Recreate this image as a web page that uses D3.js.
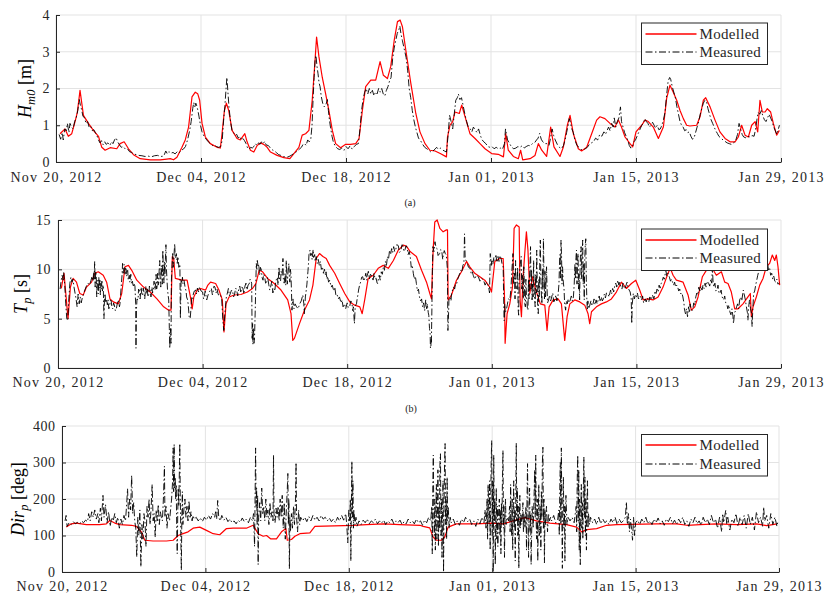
<!DOCTYPE html>
<html><head><meta charset="utf-8">
<script src="https://cdn.jsdelivr.net/npm/d3@7"></script>
<style>
body{margin:0;background:#fff}
svg{display:block}
text{font-family:"Liberation Serif","DejaVu Serif",serif;}
</style>
</head><body>
<svg id="c" width="829" height="596"></svg>
<script>
// ---------- data ----------
const tickDays = [0, 14, 28, 42, 56, 70];
const tickLabels = ["Nov 20, 2012", "Dec 04, 2012", "Dec 18, 2012", "Jan 01, 2013", "Jan 15, 2013", "Jan 29, 2013"];
const hsTicks = [0, 1, 2, 3, 4];
const tpTicks = [0, 5, 10, 15];
const dirTicks = [0, 100, 200, 300, 400];
const seriesNames = ["Modelled", "Measured"];

// [day since Nov 20 2012, Hm0 (m)]
const hsModelled = [[0.39,0.77],[0.87,0.9],[1.19,0.7],[1.52,0.77],[1.84,1.1],[2.06,1.35],[2.32,1.95],[2.65,1.27],[3.13,1.05],[3.61,0.86],[4.1,0.7],[4.42,0.4],[4.74,0.32],[5.23,0.39],[5.87,0.36],[6.19,0.5],[6.58,0.55],[7.0,0.36],[7.48,0.2],[8.13,0.09],[9.1,0.06],[10.06,0.06],[10.7,0.08],[11.03,0.09],[11.35,0.06],[11.68,0.13],[12.16,0.4],[12.48,0.6],[12.8,0.95],[13.13,1.77],[13.45,1.9],[13.68,1.86],[13.87,1.68],[14.1,1.05],[14.42,0.68],[14.9,0.5],[15.55,0.4],[15.87,0.38],[16.03,0.77],[16.26,1.4],[16.45,1.6],[16.68,1.4],[17.0,0.86],[17.48,0.64],[17.8,0.6],[18.23,0.77],[18.45,0.55],[18.77,0.32],[19.1,0.27],[19.42,0.45],[19.74,0.52],[20.06,0.48],[20.39,0.4],[20.71,0.27],[21.35,0.18],[22.0,0.12],[22.58,0.09],[22.97,0.23],[23.45,0.4],[23.77,0.73],[24.1,0.77],[24.42,0.86],[24.74,1.68],[24.97,2.6],[25.16,3.4],[25.39,2.86],[25.71,2.3],[26.03,1.86],[26.35,1.4],[26.68,0.86],[27.0,0.5],[27.48,0.39],[27.97,0.48],[28.45,0.48],[28.94,0.5],[29.26,0.64],[29.58,1.4],[29.9,2.05],[30.39,2.23],[30.87,2.23],[31.29,2.73],[31.61,2.36],[32.0,2.27],[32.32,2.6],[32.65,3.3],[32.97,3.82],[33.23,3.86],[33.45,3.68],[33.77,3.05],[34.26,2.14],[34.74,1.32],[35.14,0.82],[35.63,0.5],[36.1,0.32],[36.6,0.3],[37.1,0.23],[37.7,0.14],[37.8,0.68],[38.04,1.0],[38.3,1.1],[38.52,1.36],[38.94,1.32],[39.17,1.55],[39.5,1.23],[39.97,0.77],[40.46,0.64],[40.94,0.5],[41.42,0.36],[42.06,0.23],[42.7,0.21],[43.2,0.14],[43.42,0.77],[43.67,0.32],[44.16,0.15],[44.64,0.09],[44.86,0.32],[45.06,0.06],[45.77,0.09],[46.25,0.18],[46.57,0.5],[46.9,0.32],[47.37,0.15],[47.76,0.95],[48.08,0.41],[48.66,0.15],[48.98,0.4],[49.37,1.0],[49.63,1.27],[49.95,0.77],[50.43,0.36],[50.75,0.3],[51.24,0.4],[51.72,0.77],[52.2,1.14],[52.52,1.23],[53.0,1.18],[53.49,1.05],[53.97,0.95],[54.3,1.14],[54.6,0.95],[54.94,0.68],[55.42,0.5],[55.68,0.41],[56.0,0.82],[56.55,1.0],[56.87,1.14],[57.19,1.1],[57.67,0.95],[58.16,0.64],[58.64,0.95],[58.96,1.73],[59.28,2.09],[59.6,1.9],[59.93,1.68],[60.25,1.4],[60.57,1.18],[60.89,1.0],[61.2,0.98],[61.86,1.0],[62.18,1.23],[62.5,1.68],[62.73,1.75],[63.15,1.5],[63.63,1.14],[64.1,0.82],[64.6,0.64],[65.08,0.55],[65.56,0.55],[65.88,0.68],[66.2,1.0],[66.53,0.73],[66.85,0.68],[67.17,1.0],[67.5,1.1],[67.75,0.82],[67.97,1.68],[68.2,1.36],[68.46,1.36],[68.68,1.45],[69.0,1.36],[69.26,1.05],[69.58,0.73],[69.84,0.86]];

const hsMeasured = [[0.3,0.75],[0.45,0.62],[0.6,0.8],[0.7,0.6],[0.85,0.9],[1.0,0.85],[1.1,1.05],[1.25,0.8],[1.35,1.05],[1.5,0.95],[1.65,0.9],[1.8,1.1],[1.95,1.2],[2.1,1.4],[2.25,1.7],[2.35,1.55],[2.45,1.45],[2.6,1.25],[2.75,1.2],[2.9,1.05],[3.05,1.1],[3.2,0.95],[3.35,0.98],[3.5,0.85],[3.65,0.88],[3.8,0.8],[3.95,0.72],[4.1,0.6],[4.25,0.52],[4.4,0.58],[4.55,0.47],[4.7,0.55],[4.85,0.48],[5.0,0.52],[5.2,0.45],[5.35,0.55],[5.5,0.5],[5.65,0.6],[5.8,0.66],[5.95,0.55],[6.1,0.48],[6.3,0.4],[6.5,0.42],[6.7,0.35],[6.9,0.36],[7.1,0.28],[7.3,0.26],[7.5,0.22],[7.75,0.2],[8.0,0.18],[8.3,0.17],[8.6,0.15],[8.9,0.16],[9.2,0.14],[9.5,0.17],[9.8,0.18],[10.1,0.15],[10.4,0.16],[10.6,0.3],[10.75,0.22],[10.9,0.28],[11.1,0.24],[11.3,0.26],[11.5,0.22],[11.7,0.28],[11.9,0.25],[12.1,0.32],[12.3,0.35],[12.5,0.42],[12.7,0.6],[12.9,0.85],[13.05,1.1],[13.2,1.45],[13.3,1.62],[13.4,1.5],[13.5,1.6],[13.6,1.52],[13.7,1.4],[13.8,1.25],[13.95,1.0],[14.1,0.82],[14.3,0.7],[14.5,0.62],[14.7,0.55],[14.9,0.5],[15.1,0.45],[15.3,0.46],[15.5,0.42],[15.7,0.4],[15.9,0.42],[16.05,0.6],[16.2,1.2],[16.3,1.5],[16.42,2.0],[16.5,2.3],[16.6,1.9],[16.7,1.5],[16.85,1.1],[17.0,0.85],[17.15,0.8],[17.3,0.72],[17.45,0.75],[17.6,0.65],[17.75,0.7],[17.9,0.6],[18.05,0.64],[18.2,0.58],[18.35,0.5],[18.5,0.38],[18.65,0.35],[18.8,0.4],[18.95,0.38],[19.1,0.42],[19.25,0.5],[19.4,0.45],[19.55,0.52],[19.7,0.48],[19.85,0.55],[20.0,0.5],[20.15,0.56],[20.3,0.46],[20.5,0.45],[20.7,0.38],[20.9,0.33],[21.1,0.3],[21.3,0.25],[21.5,0.2],[21.7,0.18],[21.9,0.15],[22.1,0.14],[22.3,0.13],[22.5,0.15],[22.7,0.18],[22.9,0.22],[23.1,0.25],[23.3,0.3],[23.5,0.35],[23.7,0.4],[23.85,0.48],[24.0,0.5],[24.15,0.45],[24.3,0.6],[24.45,0.55],[24.6,0.62],[24.72,1.0],[24.82,1.7],[24.92,2.3],[25.02,2.8],[25.1,2.9],[25.2,2.6],[25.3,2.4],[25.4,2.15],[25.5,2.05],[25.6,1.8],[25.75,1.6],[25.9,1.5],[26.05,1.55],[26.2,1.7],[26.3,1.4],[26.4,1.15],[26.5,0.95],[26.65,0.7],[26.8,0.52],[27.0,0.42],[27.2,0.36],[27.4,0.34],[27.6,0.38],[27.8,0.32],[28.0,0.42],[28.2,0.36],[28.4,0.44],[28.6,0.35],[28.8,0.42],[29.0,0.48],[29.2,0.5],[29.35,0.9],[29.5,1.4],[29.65,1.7],[29.8,1.9],[29.95,2.0],[30.1,1.85],[30.25,2.0],[30.4,1.85],[30.55,1.95],[30.7,1.8],[30.85,1.9],[31.0,1.85],[31.15,2.0],[31.3,1.9],[31.45,2.0],[31.6,1.85],[31.75,1.8],[31.9,1.95],[32.05,2.05],[32.2,2.2],[32.35,2.3],[32.5,2.8],[32.65,3.1],[32.8,3.3],[32.95,3.5],[33.1,3.6],[33.2,3.7],[33.3,3.5],[33.45,3.3],[33.6,3.1],[33.8,2.85],[33.95,2.5],[34.1,2.0],[34.25,1.75],[34.4,1.4],[34.55,1.15],[34.7,0.95],[34.85,0.8],[35.0,0.65],[35.2,0.58],[35.4,0.48],[35.6,0.4],[35.8,0.36],[36.0,0.32],[36.2,0.27],[36.4,0.3],[36.6,0.35],[36.75,0.4],[36.9,0.35],[37.1,0.38],[37.3,0.33],[37.5,0.3],[37.7,0.27],[37.85,0.7],[38.0,1.27],[38.15,1.1],[38.3,0.9],[38.45,1.3],[38.6,1.68],[38.75,1.75],[38.85,1.85],[39.0,1.7],[39.15,1.75],[39.3,1.55],[39.5,1.27],[39.65,1.1],[39.8,0.95],[40.0,0.9],[40.15,0.82],[40.3,0.95],[40.5,0.86],[40.65,0.8],[40.8,0.9],[41.0,0.7],[41.15,0.6],[41.3,0.55],[41.5,0.5],[41.7,0.42],[41.9,0.4],[42.1,0.42],[42.3,0.36],[42.5,0.4],[42.7,0.36],[42.9,0.38],[43.1,0.34],[43.3,0.5],[43.4,0.9],[43.5,0.75],[43.6,0.6],[43.8,0.5],[44.0,0.4],[44.2,0.36],[44.4,0.38],[44.6,0.42],[44.8,0.4],[45.0,0.44],[45.2,0.38],[45.4,0.42],[45.6,0.45],[45.8,0.44],[46.0,0.5],[46.2,0.52],[46.4,0.6],[46.55,0.65],[46.7,0.78],[46.85,0.62],[47.0,0.55],[47.2,0.5],[47.4,0.5],[47.6,0.45],[47.75,0.65],[47.9,0.9],[48.05,0.72],[48.2,0.6],[48.4,0.48],[48.6,0.4],[48.8,0.36],[49.0,0.45],[49.15,0.6],[49.3,0.8],[49.45,1.0],[49.55,1.18],[49.65,1.1],[49.8,0.9],[49.95,0.8],[50.1,0.6],[50.3,0.45],[50.5,0.4],[50.7,0.34],[50.9,0.33],[51.1,0.36],[51.3,0.4],[51.5,0.48],[51.7,0.52],[51.9,0.55],[52.1,0.65],[52.3,0.6],[52.5,0.75],[52.7,0.7],[52.9,0.82],[53.05,0.75],[53.2,0.85],[53.35,0.95],[53.5,0.85],[53.65,1.05],[53.8,0.95],[53.9,1.2],[54.05,0.95],[54.2,1.1],[54.35,1.2],[54.5,1.5],[54.6,1.1],[54.75,0.95],[54.9,0.8],[55.05,0.7],[55.2,0.6],[55.35,0.45],[55.5,0.38],[55.65,0.4],[55.8,0.55],[55.95,0.6],[56.1,0.7],[56.25,0.8],[56.4,0.9],[56.55,1.0],[56.7,1.05],[56.85,1.18],[57.0,1.1],[57.15,1.05],[57.3,0.95],[57.45,1.0],[57.6,1.08],[57.75,1.0],[57.9,0.92],[58.05,1.0],[58.2,0.88],[58.35,0.9],[58.5,1.0],[58.65,1.15],[58.8,1.35],[58.95,1.8],[59.1,2.2],[59.25,2.3],[59.35,2.25],[59.5,2.05],[59.65,1.9],[59.8,1.75],[59.95,1.5],[60.1,1.3],[60.25,1.1],[60.4,1.0],[60.55,0.95],[60.7,0.85],[60.85,0.88],[61.0,0.8],[61.15,0.82],[61.3,0.7],[61.45,0.62],[61.6,0.65],[61.75,0.8],[61.9,0.95],[62.05,1.1],[62.2,1.3],[62.35,1.45],[62.5,1.6],[62.65,1.68],[62.8,1.65],[62.95,1.45],[63.1,1.3],[63.25,1.15],[63.4,1.05],[63.55,0.95],[63.7,0.85],[63.85,0.78],[64.0,0.7],[64.2,0.65],[64.4,0.6],[64.6,0.56],[64.8,0.52],[65.0,0.5],[65.2,0.48],[65.4,0.52],[65.6,0.56],[65.8,0.75],[65.95,1.05],[66.1,0.9],[66.25,0.75],[66.4,0.68],[66.6,0.66],[66.8,0.7],[67.0,0.68],[67.2,0.72],[67.4,0.7],[67.55,0.9],[67.7,1.2],[67.8,1.35],[67.95,1.3],[68.1,1.4],[68.25,1.25],[68.4,1.15],[68.55,1.1],[68.7,1.2],[68.85,1.3],[69.0,1.2],[69.15,1.1],[69.3,0.95],[69.45,0.85],[69.6,0.75],[69.75,0.9],[69.85,1.0]];

// [day, Tp (s)]
const tpModelled = [[0.32,8.06],[0.58,9.6],[0.81,6.9],[0.97,5.0],[1.2,8.2],[1.46,9.08],[1.79,8.7],[2.11,7.55],[2.44,7.4],[2.76,8.2],[3.25,8.7],[3.57,9.6],[3.9,9.75],[4.38,9.4],[4.71,8.7],[5.03,7.0],[5.36,6.7],[5.84,6.5],[6.17,7.55],[6.49,10.26],[6.82,10.4],[7.14,9.9],[7.63,8.9],[8.28,8.2],[8.93,7.7],[9.58,7.0],[10.23,6.2],[10.71,5.86],[10.94,5.86],[11.07,11.3],[11.2,11.1],[11.36,9.08],[12.0,8.9],[12.5,8.9],[12.82,7.2],[12.99,6.0],[13.15,7.2],[13.47,7.9],[13.8,8.06],[14.29,7.9],[14.51,8.4],[14.77,8.7],[15.26,8.56],[15.58,7.9],[15.91,6.9],[16.07,3.66],[16.27,6.5],[16.56,7.2],[17.05,7.4],[17.7,7.45],[18.34,7.7],[18.83,8.06],[19.16,8.56],[19.48,9.9],[19.81,9.75],[20.29,9.08],[20.94,8.56],[21.59,7.9],[22.24,6.9],[22.56,5.5],[22.73,2.8],[22.89,3.0],[23.38,4.5],[23.86,5.86],[24.35,6.9],[24.68,8.4],[25.0,11.1],[25.32,11.6],[25.65,11.3],[25.97,11.1],[26.3,10.4],[26.79,9.6],[27.27,8.56],[27.76,7.55],[28.25,6.7],[28.73,6.37],[29.22,6.2],[29.45,5.5],[29.71,7.0],[30.03,9.08],[30.52,9.4],[31.0,10.1],[31.49,10.4],[31.98,10.1],[32.47,10.9],[32.95,11.95],[33.44,12.46],[33.77,12.3],[34.09,11.8],[34.7,11.3],[35.2,9.9],[35.68,8.7],[36.0,7.55],[36.16,7.0],[36.32,11.95],[36.48,14.8],[36.71,15.0],[36.97,14.15],[37.29,13.8],[37.61,14.0],[37.71,14.0],[37.77,6.9],[38.1,7.4],[38.58,8.9],[39.06,9.75],[39.55,10.8],[39.87,10.26],[40.35,9.6],[40.84,9.25],[41.32,8.9],[41.8,8.2],[41.97,7.7],[42.29,10.8],[42.77,11.1],[43.1,11.1],[43.23,7.2],[43.29,2.5],[43.48,5.5],[43.74,6.5],[44.0,8.2],[44.16,14.15],[44.39,14.5],[44.65,14.3],[44.74,6.9],[44.87,5.2],[45.03,9.25],[45.19,11.6],[45.35,13.8],[45.5,11.95],[45.68,7.55],[45.94,9.25],[46.26,7.9],[46.7,6.5],[47.13,6.37],[47.35,3.8],[47.55,6.2],[47.94,6.9],[48.42,7.0],[48.74,6.5],[49.06,2.8],[49.29,5.2],[49.55,6.5],[50.03,6.9],[50.52,6.7],[51.0,6.37],[51.32,5.5],[51.48,4.5],[51.65,5.7],[52.13,6.2],[52.61,6.5],[53.1,6.7],[53.58,7.0],[54.06,7.7],[54.55,8.7],[55.03,8.06],[55.52,8.56],[55.94,8.9],[56.32,7.9],[56.65,6.9],[57.13,7.0],[57.61,6.9],[58.1,7.2],[58.58,8.2],[59.06,9.6],[59.29,10.1],[59.55,9.4],[59.87,8.9],[60.52,8.7],[61.0,7.4],[61.32,5.86],[61.65,6.2],[61.97,7.2],[62.39,9.25],[62.77,9.9],[63.26,10.26],[63.74,9.4],[64.23,9.75],[64.55,8.7],[64.87,8.56],[65.19,7.7],[65.52,6.0],[65.84,6.0],[66.32,6.5],[66.8,7.2],[67.03,7.55],[67.13,5.2],[67.29,6.2],[67.61,7.2],[67.94,8.4],[68.26,9.08],[68.58,10.26],[68.9,10.6],[69.16,11.45],[69.39,10.9],[69.55,11.45],[69.71,10.26],[69.87,8.4]];

const tpMeasured = [[0.2,8.0],[0.3,8.8],[0.4,9.4],[0.5,8.9],[0.55,9.7],[0.65,8.5],[0.75,6.5],[0.85,5.0],[0.95,4.8],[1.05,7.0],[1.15,8.6],[1.25,9.2],[1.35,8.7],[1.45,9.0],[1.55,8.2],[1.65,7.6],[1.75,7.0],[1.85,6.2],[1.95,7.5],[2.05,6.5],[2.15,7.2],[2.25,6.6],[2.35,7.1],[2.45,7.4],[2.6,7.9],[2.75,8.3],[2.9,8.6],[3.05,8.4],[3.2,8.9],[3.3,9.3],[3.4,8.8],[3.45,9.75],[3.5,9.0],[3.55,10.8],[3.6,8.2],[3.65,9.8],[3.7,9.4],[3.75,7.2],[3.8,8.9],[3.85,8.7],[3.9,7.5],[3.95,9.2],[4.0,8.1],[4.05,8.9],[4.1,7.4],[4.15,8.6],[4.2,8.0],[4.25,8.8],[4.3,7.8],[4.38,8.4],[4.45,5.0],[4.5,7.0],[4.55,7.55],[4.62,6.6],[4.7,7.0],[4.78,6.4],[4.85,6.9],[4.92,6.0],[5.0,6.3],[5.08,6.9],[5.15,6.8],[5.22,6.1],[5.3,6.0],[5.38,6.6],[5.45,6.4],[5.55,5.8],[5.65,6.0],[5.75,6.6],[5.85,6.9],[5.95,6.2],[6.0,6.5],[6.1,8.0],[6.2,9.4],[6.25,10.6],[6.3,9.6],[6.35,9.8],[6.4,10.5],[6.45,10.2],[6.5,9.4],[6.55,10.1],[6.6,10.0],[6.65,9.3],[6.7,9.8],[6.75,9.9],[6.8,8.9],[6.9,9.4],[6.95,8.7],[7.05,9.5],[7.1,8.6],[7.2,8.8],[7.3,8.2],[7.35,8.6],[7.45,8.3],[7.52,6.5],[7.55,2.0],[7.6,6.0],[7.65,7.0],[7.75,6.9],[7.8,8.0],[7.9,7.8],[7.95,7.0],[8.05,8.2],[8.1,7.6],[8.2,7.3],[8.25,8.1],[8.35,7.55],[8.4,7.0],[8.5,8.3],[8.55,7.5],[8.65,8.06],[8.7,7.2],[8.8,7.5],[8.85,8.3],[8.95,7.7],[9.0,7.2],[9.1,8.2],[9.15,7.6],[9.25,8.0],[9.3,8.8],[9.4,7.9],[9.45,8.56],[9.5,9.5],[9.55,8.0],[9.6,8.3],[9.65,9.6],[9.7,8.4],[9.75,9.0],[9.8,10.0],[9.85,10.9],[9.9,8.6],[9.95,8.2],[10.0,10.4],[10.05,9.4],[10.1,8.5],[10.15,11.95],[10.2,9.8],[10.25,8.6],[10.3,10.8],[10.35,9.25],[10.4,11.0],[10.45,12.5],[10.5,10.0],[10.55,9.0],[10.6,8.0],[10.65,7.5],[10.72,6.9],[10.78,4.0],[10.82,2.0],[10.86,3.0],[10.9,4.0],[10.94,2.5],[10.98,8.9],[11.05,10.5],[11.1,11.6],[11.15,10.2],[11.2,10.5],[11.25,11.8],[11.3,12.6],[11.35,11.2],[11.4,11.1],[11.45,11.6],[11.55,10.6],[11.6,11.3],[11.65,11.0],[11.7,10.2],[11.8,10.5],[11.85,5.0],[11.92,9.0],[12.0,8.6],[12.05,9.2],[12.1,8.56],[12.2,8.9],[12.3,8.2],[12.4,7.8],[12.45,7.2],[12.55,6.9],[12.6,6.5],[12.7,5.2],[12.8,5.0],[12.9,6.4],[12.95,7.2],[13.05,7.0],[13.1,7.5],[13.2,7.8],[13.3,7.9],[13.4,7.5],[13.5,8.1],[13.6,7.7],[13.7,8.2],[13.85,7.8],[14.0,7.7],[14.1,7.0],[14.15,7.2],[14.25,7.8],[14.3,7.5],[14.4,6.9],[14.5,7.3],[14.6,7.6],[14.7,7.8],[14.85,8.06],[14.95,7.4],[15.0,7.6],[15.1,8.3],[15.2,8.2],[15.3,7.6],[15.4,8.0],[15.5,7.5],[15.55,7.4],[15.7,7.5],[15.85,7.0],[15.95,5.0],[16.05,3.8],[16.15,5.5],[16.3,7.2],[16.4,7.6],[16.5,8.06],[16.6,7.3],[16.7,7.6],[16.8,7.9],[16.9,7.8],[17.0,7.2],[17.1,7.5],[17.2,8.1],[17.3,7.9],[17.4,7.3],[17.5,8.0],[17.6,8.3],[17.7,7.6],[17.8,8.2],[17.9,8.1],[18.0,7.5],[18.1,8.3],[18.2,8.6],[18.3,7.9],[18.4,8.4],[18.5,8.5],[18.6,9.0],[18.65,8.9],[18.75,8.6],[18.8,3.0],[18.84,4.5],[18.87,2.4],[18.9,3.5],[18.93,4.0],[18.97,2.5],[19.02,2.8],[19.1,6.0],[19.15,8.5],[19.2,10.6],[19.25,10.0],[19.3,10.9],[19.38,10.2],[19.45,10.5],[19.5,9.4],[19.55,9.6],[19.6,10.2],[19.7,9.9],[19.75,9.2],[19.85,8.9],[19.9,9.5],[20.0,9.3],[20.1,8.6],[20.2,8.7],[20.3,9.2],[20.4,8.5],[20.5,7.9],[20.6,8.3],[20.7,8.8],[20.8,7.6],[20.9,8.06],[21.0,7.8],[21.05,8.5],[21.15,9.0],[21.25,9.2],[21.3,8.4],[21.4,10.26],[21.45,9.0],[21.55,8.8],[21.6,9.8],[21.7,9.4],[21.78,11.1],[21.82,9.0],[21.9,8.6],[21.98,9.6],[22.05,8.4],[22.1,10.9],[22.15,9.5],[22.2,8.5],[22.27,9.8],[22.35,10.6],[22.4,9.2],[22.45,8.7],[22.5,10.0],[22.55,9.5],[22.6,8.0],[22.65,5.86],[22.7,6.5],[22.75,7.0],[22.8,6.2],[22.85,6.0],[22.95,6.5],[23.1,6.2],[23.25,6.0],[23.4,6.5],[23.55,6.8],[23.7,7.4],[23.8,6.5],[23.85,5.5],[23.95,7.2],[24.05,8.0],[24.1,8.5],[24.2,9.8],[24.25,10.5],[24.3,11.5],[24.4,11.95],[24.45,11.4],[24.55,11.6],[24.6,11.0],[24.7,12.0],[24.75,11.2],[24.85,11.5],[24.9,10.8],[25.0,11.3],[25.1,10.6],[25.2,11.0],[25.3,10.4],[25.4,10.8],[25.5,10.0],[25.6,10.26],[25.7,9.6],[25.8,10.0],[25.9,9.4],[25.95,9.75],[26.05,9.0],[26.1,9.3],[26.2,8.7],[26.3,8.9],[26.45,8.2],[26.55,8.4],[26.7,7.8],[26.8,8.2],[26.9,7.4],[27.0,7.5],[27.15,7.0],[27.25,7.2],[27.4,6.6],[27.5,6.9],[27.6,6.2],[27.75,6.5],[27.85,6.0],[28.0,6.6],[28.1,6.1],[28.25,6.3],[28.35,6.8],[28.45,6.6],[28.55,5.8],[28.6,6.2],[28.7,4.5],[28.78,6.3],[28.9,6.5],[28.95,6.9],[29.05,7.5],[29.1,7.9],[29.2,8.4],[29.3,8.7],[29.4,9.2],[29.5,9.25],[29.6,8.8],[29.7,9.1],[29.8,9.6],[29.9,8.9],[29.95,9.4],[30.05,9.8],[30.15,9.0],[30.25,9.5],[30.4,9.3],[30.5,8.8],[30.6,9.6],[30.7,9.0],[30.8,9.1],[30.9,8.6],[30.95,8.56],[31.05,9.2],[31.1,9.4],[31.2,8.9],[31.3,9.75],[31.4,9.5],[31.5,10.2],[31.6,9.9],[31.7,10.8],[31.8,10.4],[31.9,11.3],[32.0,11.0],[32.1,11.95],[32.2,11.5],[32.3,12.1],[32.4,11.7],[32.5,12.3],[32.6,11.8],[32.7,12.0],[32.8,12.5],[32.95,12.4],[33.05,11.7],[33.2,11.9],[33.3,12.5],[33.4,12.4],[33.5,11.8],[33.6,12.0],[33.7,12.4],[33.8,12.2],[33.9,11.5],[34.0,11.8],[34.1,11.3],[34.2,10.2],[34.3,10.4],[34.4,9.6],[34.5,9.0],[34.6,9.3],[34.7,8.56],[34.8,7.8],[34.9,8.0],[35.0,7.2],[35.1,6.8],[35.2,7.0],[35.3,6.2],[35.4,6.6],[35.5,5.8],[35.6,6.9],[35.7,6.0],[35.75,6.5],[35.85,5.6],[35.9,5.35],[35.97,4.0],[36.03,3.5],[36.06,2.0],[36.1,2.1],[36.13,3.0],[36.15,2.5],[36.2,6.0],[36.25,10.0],[36.3,12.3],[36.4,11.8],[36.5,12.8],[36.6,12.2],[36.7,12.1],[36.8,11.4],[36.95,11.6],[37.05,12.0],[37.15,11.9],[37.25,11.0],[37.3,11.45],[37.4,11.9],[37.5,11.6],[37.6,11.45],[37.7,10.0],[37.75,3.8],[37.8,5.0],[37.85,6.9],[37.95,7.2],[38.05,6.8],[38.1,7.55],[38.2,7.9],[38.3,8.2],[38.4,8.0],[38.5,8.6],[38.6,8.56],[38.7,9.0],[38.8,9.3],[38.9,9.6],[39.0,9.9],[39.1,9.7],[39.2,10.4],[39.3,10.6],[39.36,13.6],[39.42,11.2],[39.45,11.0],[39.55,10.8],[39.65,10.5],[39.75,10.2],[39.9,10.1],[40.0,9.6],[40.1,9.8],[40.2,9.4],[40.35,9.0],[40.5,9.4],[40.7,9.25],[40.85,8.8],[41.0,9.1],[41.2,8.9],[41.35,8.4],[41.5,8.7],[41.7,8.2],[41.78,7.6],[41.85,11.6],[41.95,10.4],[42.0,11.0],[42.1,10.5],[42.2,11.2],[42.3,10.9],[42.4,11.4],[42.5,10.7],[42.6,11.3],[42.7,10.8],[42.8,11.4],[42.9,11.1],[43.0,10.5],[43.1,10.26],[43.15,7.0],[43.2,4.8],[43.25,6.5],[43.3,5.6],[43.4,5.86],[43.5,6.4],[43.6,7.0],[43.75,6.9],[43.85,8.0],[43.95,10.0],[44.05,11.6],[44.1,8.5],[44.2,9.6],[44.25,7.0],[44.3,10.9],[44.35,8.2],[44.45,8.0],[44.5,10.2],[44.55,6.0],[44.6,5.35],[44.65,9.0],[44.75,10.5],[44.85,11.3],[44.9,8.0],[44.95,9.4],[45.05,7.0],[45.1,10.26],[45.15,8.5],[45.2,6.5],[45.25,6.2],[45.3,9.0],[45.35,7.4],[45.45,6.0],[45.5,5.86],[45.55,9.0],[45.6,7.0],[45.7,10.5],[45.75,12.3],[45.8,8.0],[45.85,10.0],[45.9,6.9],[45.95,8.5],[46.0,7.2],[46.05,10.9],[46.1,8.0],[46.15,7.0],[46.2,6.2],[46.25,9.5],[46.3,7.6],[46.35,11.95],[46.4,8.4],[46.45,6.0],[46.5,5.5],[46.55,9.0],[46.6,7.2],[46.65,11.0],[46.7,12.97],[46.75,9.0],[46.8,7.5],[46.85,6.5],[46.9,10.0],[46.95,8.0],[47.0,13.1],[47.05,9.5],[47.1,7.0],[47.15,9.8],[47.2,7.2],[47.3,10.26],[47.35,8.0],[47.4,6.6],[47.5,6.9],[47.6,7.4],[47.7,6.8],[47.8,7.2],[47.9,7.6],[48.0,6.7],[48.1,6.9],[48.2,7.4],[48.3,6.8],[48.4,7.2],[48.5,8.5],[48.55,10.26],[48.6,11.5],[48.65,9.0],[48.7,12.97],[48.75,11.5],[48.8,8.5],[48.85,10.26],[48.9,9.0],[49.0,7.9],[49.05,6.5],[49.15,5.86],[49.2,6.8],[49.3,6.5],[49.4,7.0],[49.5,6.6],[49.6,6.9],[49.7,7.3],[49.8,6.8],[49.9,7.2],[49.98,8.5],[50.05,10.5],[50.1,9.0],[50.15,11.2],[50.2,11.95],[50.25,8.5],[50.3,10.8],[50.35,11.6],[50.4,8.0],[50.45,9.5],[50.5,6.9],[50.55,10.0],[50.6,12.0],[50.65,12.3],[50.7,9.0],[50.75,11.4],[50.8,12.97],[50.85,8.5],[50.9,10.5],[50.95,6.9],[51.0,11.0],[51.05,12.5],[51.1,13.1],[51.15,9.0],[51.2,7.0],[51.25,5.86],[51.3,6.8],[51.4,6.0],[51.45,6.2],[51.6,6.8],[51.7,6.3],[51.8,6.5],[51.9,7.0],[52.0,6.4],[52.1,6.9],[52.2,6.5],[52.3,6.9],[52.4,7.3],[52.5,6.7],[52.6,7.2],[52.7,6.8],[52.8,7.0],[52.9,7.5],[53.0,7.1],[53.1,7.6],[53.25,7.55],[53.35,7.2],[53.5,7.9],[53.6,7.5],[53.7,8.06],[53.8,7.7],[53.9,8.3],[54.0,8.6],[54.1,8.2],[54.2,8.9],[54.3,8.4],[54.4,8.7],[54.5,8.2],[54.6,8.0],[54.7,8.6],[54.8,8.2],[54.9,8.0],[55.0,8.4],[55.1,8.7],[55.2,8.1],[55.3,7.9],[55.4,7.7],[55.5,7.0],[55.55,4.5],[55.6,6.5],[55.7,7.55],[55.8,7.0],[55.9,7.4],[56.0,7.2],[56.1,7.6],[56.2,7.0],[56.35,7.3],[56.5,6.9],[56.6,7.3],[56.7,6.6],[56.85,7.0],[56.95,6.7],[57.05,7.1],[57.2,6.7],[57.3,7.2],[57.45,6.9],[57.55,7.4],[57.7,7.0],[57.8,7.8],[57.9,7.55],[58.0,8.0],[58.1,7.7],[58.2,8.4],[58.3,8.1],[58.4,8.56],[58.5,8.8],[58.6,9.2],[58.7,9.0],[58.8,9.6],[58.85,9.9],[58.95,9.3],[59.05,9.6],[59.2,9.2],[59.3,8.8],[59.4,9.0],[59.5,8.7],[59.6,8.4],[59.7,8.7],[59.8,8.2],[59.9,8.4],[60.0,8.2],[60.1,7.8],[60.2,8.0],[60.3,7.5],[60.4,7.6],[60.5,7.2],[60.6,6.6],[60.65,6.0],[60.75,5.5],[60.85,6.0],[60.95,5.2],[61.05,6.2],[61.15,5.6],[61.2,6.5],[61.3,5.9],[61.45,5.86],[61.55,6.6],[61.65,6.4],[61.75,7.2],[61.85,7.6],[61.95,7.4],[62.05,8.2],[62.15,7.8],[62.25,8.3],[62.35,7.9],[62.45,8.4],[62.55,8.06],[62.65,8.6],[62.75,8.2],[62.85,8.8],[63.0,8.56],[63.1,8.3],[63.2,9.0],[63.3,8.6],[63.35,10.26],[63.42,8.8],[63.5,8.2],[63.6,8.6],[63.7,7.8],[63.8,7.9],[63.9,8.4],[64.0,7.6],[64.1,7.55],[64.2,7.9],[64.3,7.2],[64.45,6.9],[64.55,7.3],[64.65,6.6],[64.75,6.5],[64.85,6.0],[64.95,6.4],[65.05,5.7],[65.15,5.4],[65.25,6.0],[65.35,5.2],[65.4,4.5],[65.5,5.6],[65.6,5.8],[65.7,6.2],[65.8,6.5],[65.9,6.0],[66.0,6.9],[66.1,7.2],[66.2,6.8],[66.35,7.9],[66.45,7.4],[66.55,6.9],[66.65,6.2],[66.75,5.6],[66.8,4.85],[66.85,6.0],[66.95,6.9],[67.05,6.0],[67.15,5.5],[67.2,4.2],[67.25,5.5],[67.35,7.55],[67.45,7.8],[67.55,8.4],[67.65,8.9],[67.75,9.4],[67.85,9.8],[67.95,10.6],[68.05,11.0],[68.15,11.6],[68.2,12.8],[68.3,11.4],[68.4,11.0],[68.45,10.9],[68.55,10.4],[68.6,10.26],[68.7,10.6],[68.8,9.9],[68.9,10.1],[69.0,9.4],[69.1,9.6],[69.2,9.0],[69.3,9.3],[69.4,8.8],[69.5,8.7],[69.6,9.0],[69.7,8.5],[69.85,8.6]];

// [day, Dir_p (deg)]
const dirModelled = [[0.42,123],[0.91,132],[1.4,134],[2.38,130],[3.68,130],[4.33,132],[4.66,141],[5.15,134],[5.64,130],[6.78,128],[7.26,125],[7.75,110],[8.08,87],[8.89,85],[10.2,85],[10.85,87],[11.34,100],[11.82,105],[12.31,110],[12.8,120],[13.45,123],[14.1,114],[14.76,105],[15.4,102],[16.06,119],[16.7,120],[18.0,120],[18.66,128],[19.15,105],[19.64,98],[19.97,100],[20.36,91],[20.94,91],[21.43,110],[21.86,119],[21.99,87],[22.4,89],[22.74,98],[23.22,105],[24.2,107],[24.69,125],[28.44,128],[29.74,130],[31.37,132],[33.0,130],[34.95,128],[35.26,125],[35.9,121],[36.23,96],[36.56,87],[37.05,87],[37.37,96],[37.7,123],[38.5,132],[40.47,132],[42.0,134],[43.07,132],[44.38,143],[45.19,149],[46.33,140],[47.64,134],[49.26,130],[50.24,123],[50.73,110],[51.22,116],[52.2,119],[53.17,128],[54.15,130],[58.06,132],[60.0,132],[61.0,128],[62.3,130],[63.9,132],[65.9,130],[67.8,132],[68.8,127],[69.8,132]];

const dirMeasured = [[0.3,140],[0.4,155],[0.5,125],[0.7,135],[0.9,130],[1.1,138],[1.3,132],[1.5,136],[1.7,130],[1.9,140],[2.1,135],[2.3,142],[2.5,138],[2.6,160],[2.75,140],[2.9,165],[3.05,150],[3.2,170],[3.35,145],[3.5,160],[3.6,135],[3.75,175],[3.85,140],[4.0,210],[4.1,150],[4.25,185],[4.4,135],[4.55,165],[4.7,125],[4.85,150],[5.0,140],[5.15,160],[5.3,135],[5.45,150],[5.6,120],[5.75,145],[5.9,130],[6.05,155],[6.2,140],[6.3,180],[6.4,228],[6.5,150],[6.6,200],[6.7,170],[6.8,265],[6.9,160],[7.0,190],[7.1,140],[7.2,120],[7.3,41],[7.4,150],[7.5,100],[7.6,170],[7.7,14],[7.8,130],[7.9,90],[8.0,160],[8.1,140],[8.2,70],[8.3,180],[8.4,150],[8.5,200],[8.6,130],[8.7,175],[8.8,240],[8.9,140],[9.0,160],[9.1,95],[9.2,170],[9.3,140],[9.4,185],[9.5,130],[9.6,165],[9.7,150],[9.8,140],[9.9,200],[10.0,290],[10.05,150],[10.15,180],[10.25,120],[10.35,160],[10.5,140],[10.6,170],[10.7,200],[10.8,250],[10.85,340],[10.9,220],[10.95,350],[11.0,230],[11.05,260],[11.1,200],[11.15,240],[11.2,120],[11.25,50],[11.3,160],[11.35,230],[11.4,180],[11.45,260],[11.5,352],[11.55,200],[11.6,100],[11.65,5],[11.7,150],[11.75,220],[11.8,130],[11.9,170],[12.0,200],[12.1,150],[12.2,180],[12.3,140],[12.4,195],[12.5,150],[12.6,165],[12.7,140],[12.8,155],[12.9,145],[13.1,150],[13.3,140],[13.5,148],[13.7,138],[13.9,150],[14.1,142],[14.3,155],[14.5,145],[14.7,160],[14.9,150],[15.0,165],[15.1,145],[15.2,196],[15.3,150],[15.45,140],[15.6,155],[15.8,142],[16.0,150],[16.2,138],[16.4,145],[16.6,135],[16.8,140],[17.0,132],[17.2,142],[17.4,136],[17.6,148],[17.8,138],[18.0,145],[18.2,135],[18.4,150],[18.6,140],[18.7,160],[18.8,70],[18.85,200],[18.9,340],[18.95,180],[19.0,230],[19.05,130],[19.1,210],[19.15,20],[19.2,150],[19.3,190],[19.4,140],[19.5,230],[19.6,160],[19.7,180],[19.8,140],[19.9,200],[20.0,150],[20.1,170],[20.2,130],[20.3,190],[20.4,150],[20.5,165],[20.6,140],[20.65,320],[20.7,160],[20.8,135],[20.9,175],[21.0,150],[21.1,180],[21.2,140],[21.3,200],[21.4,150],[21.5,210],[21.6,120],[21.7,190],[21.8,90],[21.9,170],[22.0,230],[22.05,270],[22.1,130],[22.15,200],[22.2,9],[22.25,150],[22.3,110],[22.4,160],[22.5,120],[22.6,180],[22.7,130],[22.8,200],[22.85,300],[22.9,150],[23.0,110],[23.1,170],[23.2,130],[23.3,150],[23.5,140],[23.7,150],[23.9,138],[24.1,152],[24.3,140],[24.5,155],[24.7,142],[24.9,150],[25.1,140],[25.3,155],[25.5,145],[25.7,150],[25.9,140],[26.1,148],[26.3,138],[26.5,145],[26.7,135],[26.9,150],[27.1,140],[27.3,155],[27.5,142],[27.7,160],[27.8,130],[27.9,80],[28.0,170],[28.1,140],[28.15,200],[28.2,30],[28.25,180],[28.3,304],[28.35,150],[28.4,250],[28.45,120],[28.5,170],[28.6,130],[28.7,150],[28.8,125],[29.0,140],[29.2,130],[29.4,142],[29.6,135],[29.8,145],[30.0,132],[30.2,140],[30.4,135],[30.6,145],[30.8,132],[31.0,140],[31.2,134],[31.4,142],[31.6,130],[31.8,140],[32.0,135],[32.2,145],[32.4,132],[32.6,140],[32.8,135],[33.0,142],[33.2,130],[33.4,138],[33.6,132],[33.8,145],[34.0,135],[34.2,140],[34.4,132],[34.6,145],[34.8,135],[35.0,140],[35.2,128],[35.4,142],[35.6,135],[35.8,150],[36.0,140],[36.1,180],[36.15,50],[36.2,230],[36.25,320],[36.3,150],[36.35,100],[36.4,200],[36.45,60],[36.5,170],[36.55,240],[36.6,90],[36.65,150],[36.7,280],[36.75,70],[36.8,180],[36.85,120],[36.9,300],[36.95,324],[37.0,100],[37.05,200],[37.1,40],[37.15,160],[37.2,250],[37.25,0],[37.3,180],[37.35,300],[37.4,352],[37.45,130],[37.5,200],[37.55,90],[37.6,260],[37.65,140],[37.7,180],[37.8,120],[37.9,150],[38.0,135],[38.2,145],[38.4,130],[38.6,140],[38.8,128],[39.0,145],[39.2,135],[39.4,150],[39.6,138],[39.8,145],[40.0,130],[40.2,140],[40.4,125],[40.6,145],[40.8,132],[41.0,150],[41.2,135],[41.3,170],[41.4,120],[41.5,200],[41.55,90],[41.6,240],[41.7,130],[41.75,250],[41.8,60],[41.85,180],[41.9,300],[41.95,360],[42.0,100],[42.05,250],[42.1,0],[42.15,320],[42.2,140],[42.25,200],[42.3,20],[42.35,160],[42.4,230],[42.45,90],[42.5,180],[42.55,70],[42.6,150],[42.7,200],[42.75,100],[42.8,170],[42.85,50],[42.9,190],[42.95,130],[43.0,250],[43.05,333],[43.1,120],[43.15,180],[43.2,40],[43.25,160],[43.3,200],[43.35,130],[43.45,150],[43.6,140],[43.7,180],[43.75,110],[43.8,240],[43.85,150],[43.9,100],[43.95,200],[44.0,60],[44.05,150],[44.1,250],[44.15,120],[44.2,170],[44.25,30],[44.3,190],[44.35,353],[44.4,140],[44.45,230],[44.5,100],[44.55,180],[44.6,10],[44.65,150],[44.7,210],[44.75,120],[44.8,160],[44.9,130],[45.0,190],[45.05,110],[45.1,160],[45.2,120],[45.3,180],[45.35,60],[45.4,200],[45.45,297],[45.5,150],[45.55,40],[45.6,170],[45.65,230],[45.7,110],[45.75,160],[45.8,20],[45.9,180],[46.0,120],[46.1,220],[46.15,280],[46.2,150],[46.25,320],[46.3,130],[46.35,90],[46.4,200],[46.45,30],[46.5,160],[46.55,240],[46.6,100],[46.7,180],[46.75,60],[46.8,220],[46.85,150],[46.9,300],[46.95,342],[47.0,120],[47.05,200],[47.1,25],[47.15,170],[47.2,130],[47.3,180],[47.4,110],[47.5,160],[47.6,140],[47.7,150],[47.8,140],[48.0,155],[48.2,135],[48.4,145],[48.5,170],[48.55,100],[48.6,230],[48.65,300],[48.7,130],[48.75,340],[48.8,150],[48.85,10],[48.9,200],[48.95,260],[49.0,120],[49.05,180],[49.1,30],[49.15,160],[49.2,210],[49.3,130],[49.4,150],[49.6,140],[49.8,150],[50.0,135],[50.2,180],[50.25,110],[50.3,250],[50.35,320],[50.4,140],[50.45,280],[50.5,60],[50.55,200],[50.6,20],[50.65,170],[50.7,240],[50.75,120],[50.8,190],[50.85,90],[50.9,230],[50.95,315],[51.0,150],[51.05,260],[51.1,100],[51.15,200],[51.2,60],[51.25,180],[51.3,250],[51.35,120],[51.4,160],[51.5,130],[51.6,150],[51.8,135],[52.0,145],[52.2,130],[52.4,150],[52.6,132],[52.8,145],[53.0,135],[53.2,140],[53.4,130],[53.6,145],[53.8,135],[54.0,150],[54.2,130],[54.4,145],[54.6,135],[54.8,140],[55.0,150],[55.1,192],[55.2,130],[55.3,160],[55.4,110],[55.5,145],[55.6,120],[55.7,87],[55.8,150],[55.9,100],[56.0,135],[56.2,142],[56.4,130],[56.6,145],[56.8,135],[57.0,150],[57.2,132],[57.4,140],[57.6,130],[57.8,145],[58.0,135],[58.2,148],[58.4,132],[58.6,140],[58.8,128],[59.0,145],[59.2,138],[59.4,150],[59.6,132],[59.8,142],[60.0,130],[60.2,145],[60.4,135],[60.6,150],[60.8,130],[61.0,140],[61.2,125],[61.4,145],[61.6,135],[61.8,150],[62.0,132],[62.2,140],[62.4,128],[62.6,150],[62.8,135],[63.0,145],[63.2,130],[63.4,155],[63.6,135],[63.8,145],[64.0,120],[64.2,150],[64.4,110],[64.5,160],[64.6,135],[64.8,169],[64.9,130],[65.0,150],[65.2,115],[65.4,145],[65.6,135],[65.8,160],[66.0,125],[66.2,150],[66.4,130],[66.6,155],[66.8,120],[67.0,160],[67.2,130],[67.4,150],[67.6,115],[67.8,165],[68.0,135],[68.2,150],[68.4,125],[68.5,178],[68.6,140],[68.8,155],[69.0,120],[69.2,160],[69.4,130],[69.6,150],[69.8,125],[69.9,140]];

// ---------- drawing ----------
const svg = d3.select("#c");
const t0 = Date.UTC(2012, 10, 20);
const toDate = d => new Date(t0 + d * 864e5);
const AXIS = "#262626", GRID = "#e3e3e3", RED = "#ff0000";
const DASH = "7,2.5,1.5,2.5";
const FONT = "'Liberation Serif',serif";

const panels = [
  {mod: hsModelled, mea: hsMeasured, ticks: hsTicks, l: 56, r: 781, t: 15, b: 162, xPad: 10.5, yPad: 6,
   lab: [["H", 1, 0], ["m0", 1, 1], [" [m]", 0, 0]], labX: 31, legY: 23},
  {mod: tpModelled, mea: tpMeasured, ticks: tpTicks, l: 58, r: 781, t: 220, b: 368, xPad: 9, yPad: 7,
   lab: [["T", 1, 0], ["p", 1, 1], [" [s]", 0, 0]], labX: 27, legY: 229},
  {mod: dirModelled, mea: dirMeasured, ticks: dirTicks, l: 62, r: 779, t: 426, b: 572, xPad: 9, yPad: 6.5,
   lab: [["Dir", 1, 0], ["p", 1, 1], [" [deg]", 0, 0]], labX: 24, legY: 434.5}
];

panels.forEach((p, k) => {
  const x = d3.scaleUtc().domain([toDate(tickDays[0]), toDate(tickDays[tickDays.length - 1])]).range([p.l, p.r]);
  const yMax = p.ticks[p.ticks.length - 1];
  const y = d3.scaleLinear().domain([0, yMax]).range([p.b, p.t]);
  const g = svg.append("g");

  // grid
  g.selectAll(null).data(tickDays).join("line")
    .attr("x1", d => x(toDate(d))).attr("x2", d => x(toDate(d)))
    .attr("y1", p.t).attr("y2", p.b).attr("stroke", GRID).attr("stroke-width", 1);
  g.selectAll(null).data(p.ticks).join("line")
    .attr("x1", p.l).attr("x2", p.r).attr("y1", d => y(d)).attr("y2", d => y(d))
    .attr("stroke", GRID).attr("stroke-width", 1);

  // clip
  const cid = "clip" + k;
  svg.append("clipPath").attr("id", cid).append("rect")
    .attr("x", p.l).attr("y", p.t - 1).attr("width", p.r - p.l).attr("height", p.b - p.t + 1);

  const line = d3.line().x(d => x(toDate(d[0]))).y(d => y(d[1]));
  const gl = g.append("g").attr("clip-path", `url(#${cid})`);
  gl.append("path").datum(p.mod).attr("d", line).attr("fill", "none")
    .attr("stroke", RED).attr("stroke-width", 1.2).attr("stroke-linejoin", "round");
  gl.append("path").datum(p.mea).attr("d", line).attr("fill", "none")
    .attr("stroke", "#000").attr("stroke-width", 0.9).attr("stroke-dasharray", DASH);

  // axes
  const xa = g.append("g").attr("transform", `translate(0,${p.b})`)
    .call(d3.axisBottom(x).tickValues(tickDays.map(toDate)).tickFormat((d, i) => tickLabels[i])
      .tickSizeInner(-4).tickSizeOuter(0).tickPadding(p.xPad));
  const ya = g.append("g").attr("transform", `translate(${p.l},0)`)
    .call(d3.axisLeft(y).tickValues(p.ticks).tickFormat(d3.format("d"))
      .tickSizeInner(-4).tickSizeOuter(0).tickPadding(p.yPad));
  [xa, ya].forEach(a => {
    a.select(".domain").attr("stroke", AXIS).attr("stroke-width", 1);
    a.selectAll(".tick line").attr("stroke", AXIS);
    a.selectAll("text").attr("fill", AXIS).style("font-family", FONT).style("font-size", "14px");
  });
  xa.selectAll("text").style("letter-spacing", "1.3px");
  ya.selectAll("text").style("letter-spacing", "0.5px");

  // y label
  const cy = (p.t + p.b) / 2;
  const tl = g.append("text").attr("transform", `translate(${p.labX},${cy}) rotate(-90)`)
    .attr("text-anchor", "middle").attr("fill", "#000").style("font-family", FONT);
  p.lab.forEach((s, i) => {
    tl.append("tspan").text(s[0])
      .style("font-style", s[1] ? "italic" : "normal")
      .style("font-size", s[2] ? "12.5px" : "18px")
      .attr("dy", s[2] ? 4 : (i > 0 ? -4 : 0));
  });

  // legend
  const lx = 641.5, lw = 126, lh = 41.5, ly = p.legY;
  const lg = g.append("g");
  lg.append("rect").attr("x", lx).attr("y", ly).attr("width", lw).attr("height", lh)
    .attr("fill", "#fff").attr("stroke", AXIS).attr("stroke-width", 1);
  seriesNames.forEach((name, i) => {
    const yy = Math.round(ly + 10.5 + i * 18.5);
    lg.append("line").attr("x1", lx + 4).attr("x2", lx + 55).attr("y1", yy).attr("y2", yy)
      .attr("stroke", i === 0 ? RED : "#000").attr("stroke-width", i === 0 ? 1.6 : 1)
      .attr("stroke-dasharray", i === 0 ? "none" : DASH);
    lg.append("text").attr("x", lx + 58).attr("y", yy + 5).text(name)
      .attr("fill", AXIS).style("font-family", FONT).style("font-size", "15px").style("letter-spacing", "0.3px");
  });
});

// sub-figure captions
svg.append("text").attr("x", 410).attr("y", 206).attr("text-anchor", "middle")
  .style("font-family", FONT).style("font-size", "10px").attr("fill", "#222").text("(a)");
svg.append("text").attr("x", 411).attr("y", 412).attr("text-anchor", "middle")
  .style("font-family", FONT).style("font-size", "10px").attr("fill", "#222").text("(b)");
</script>
</body></html>
